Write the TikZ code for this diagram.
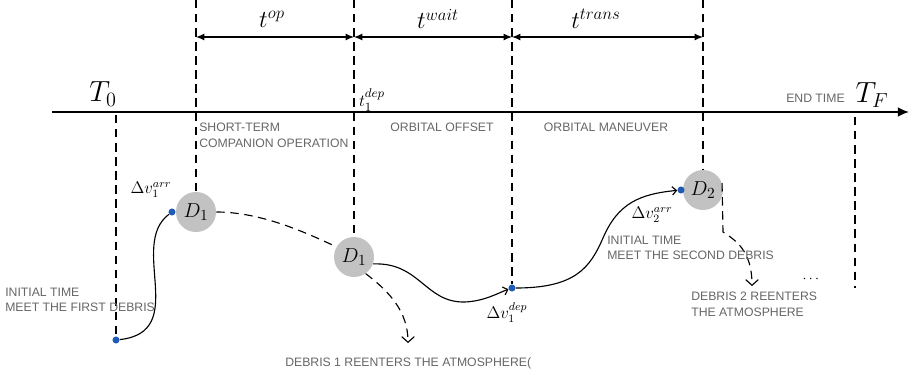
\documentclass[tikz,border=0pt]{standalone}
\usepackage{amsmath}
\usepackage{fontspec}
\setsansfont{Liberation Sans}
\usetikzlibrary{arrows.meta,positioning}
\definecolor{NoteGray}{HTML}{666666}
\definecolor{DebrisGray}{HTML}{C2C2C2}
\definecolor{DotBlue}{HTML}{1F5BB5}

\begin{document}
\begin{tikzpicture}[
		x=0.025cm, y=-0.025cm,
		guide/.style={dash pattern=on 6pt off 4pt, line width=0.8pt},
		span/.style={{Latex[length=6pt,width=5pt]}-{Latex[length=6pt,width=5pt]}, line width=0.8pt},
		note/.style={font=\sffamily\fontsize{8.7}{10.8}\selectfont, text=NoteGray,
			align=left, inner sep=0pt},
		debris/.style={circle, fill=DebrisGray, minimum size=1cm, inner sep=0pt,
			font=\fontsize{15}{18}\selectfont},
		dot/.style={circle, fill=DotBlue, minimum size=5pt, inner sep=0pt},
		orbit/.style={line width=0.8pt},
		reentry/.style={dash pattern=on 6pt off 4pt, line width=0.8pt,
			-{Straight Barb[length=4pt,width=9pt]}},
		big/.style={font=\fontsize{20}{24}\selectfont, inner sep=0pt},
		mid/.style={font=\fontsize{17}{20}\selectfont, inner sep=0pt},
		dv/.style={font=\fontsize{12}{14}\selectfont, inner sep=0pt}
		]
		\useasboundingbox (0,0) rectangle (911,379);
		% time axis
		\coordinate (axis-l) at (52,112);
		\coordinate (axis-r) at (909,112);
		\draw[line width=1.2pt, -{Latex[length=8pt,width=7pt]}] (axis-l) -- (axis-r);
		\node[big] (t0) at (103,94) {$T_0$};
		\node[big] (tf) at (872,95) {$T_F$};
		\node[note, anchor=east] (endtime) at (845,98) {END TIME};
		\node[font=\fontsize{13}{15}\selectfont, inner sep=0pt] (tdep) at (372,100) {$t_1^{dep}$};
		% debris and manoeuvre points
		\node[debris] (d1a) at (196,212) {$D_1$};
		\node[debris] (d1b) at (354,257) {$D_1$};
		\node[debris] (d2) at (703,190) {$D_2$};
		\node[dot] (start1) at (116,340) {};
		\node[dot] (arr1) at (172,212) {};
		\node[dot] (dep1) at (512,288) {};
		\node[dot] (arr2) at (681,190) {};
		\node[dv] (arr1lbl) at (151,190) {$\Delta v_1^{arr}$};
		\node[dv] (dep1lbl) at (507,313) {$\Delta v_1^{dep}$};
		\node[dv] (arr2lbl) at (652,215) {$\Delta v_2^{arr}$};
		% guide lines
		\coordinate (top1) at (196,0);
		\coordinate (top2) at (354,0);
		\coordinate (top3) at (512,0);
		\coordinate (top4) at (703,0);
		\coordinate (foot0) at (116,115);
		\coordinate (footf) at (855,117);
		\coordinate (endf) at (855,288);
		\draw[guide] (foot0) -- (start1);
		\draw[guide] (top1) -- (d1a.north);
		\draw[guide] (top2) -- (d1b.north);
		\draw[guide] (top3) -- (dep1);
		\draw[guide] (top4) -- (d2.north);
		\draw[guide] (footf) -- (endf);
		% phase durations
		\coordinate (s1) at (196,37);
		\coordinate (s2) at (354,37);
		\coordinate (s3) at (512,37);
		\coordinate (s4) at (703,37);
		\draw[span] (s1) -- (s2);
		\draw[span] (s2) -- (s3);
		\draw[span] (s3) -- (s4);
		\node[mid] (top) at (272,19) {$t^{op}$};
		\node[mid] (twait) at (438,19) {$t^{wait}$};
		\node[mid] (ttrans) at (596,19) {$t^{trans}$};
		% phase names
		\node[note, anchor=north west] (phase1) at (199,123) {SHORT-TERM\\COMPANION OPERATION};
		\node[note, anchor=north] (phase2) at (442,123) {ORBITAL OFFSET};
		\node[note, anchor=north] (phase3) at (606,123) {ORBITAL MANEUVER};
		% trajectories
		\draw[orbit] (start1) .. controls (190,332) and (128,245) .. (arr1);
		\draw[dash pattern=on 6pt off 4pt, line width=0.8pt]
			(d1a.east) .. controls +(45,0) and +(-30,-14) .. (d1b.150);
		\draw[orbit, -{Straight Barb[length=3pt,width=6pt]}]
			(d1b.-20) .. controls (420,262) and (425,303) .. (465,302)
			.. controls (485,301) and (498,293) .. (dep1);
		\draw[orbit, -{Straight Barb[length=3pt,width=6pt]}]
			(dep1) .. controls (575,288) and (590,268) .. (603,238)
			.. controls (618,203) and (640,194) .. (arr2);
		\coordinate (fall1) at (408,343);
		\coordinate (fall2) at (752,286);
		\draw[reentry] (d1b.-55) .. controls (390,292) and (408,312) .. (fall1);
		\draw[reentry] (d2.20) -- (723,232) .. controls (735,240) and (752,250) .. (fall2);
		% notes
		\node[note, anchor=north west] (note1) at (5,288) {INITIAL TIME\\MEET THE FIRST DEBRIS};
		\node[note, anchor=north west] (note2) at (607,236) {INITIAL TIME\\MEET THE SECOND DEBRIS};
		\node[note, anchor=north west] (note3) at (691,292) {DEBRIS 2 REENTERS\\THE ATMOSPHERE};
		\node[note, anchor=north west] (note4) at (285,357) {DEBRIS 1 REENTERS THE ATMOSPHERE(};
		\node[inner sep=0pt] (more) at (812,279) {$\cdots$};
	\end{tikzpicture}
\end{document}
